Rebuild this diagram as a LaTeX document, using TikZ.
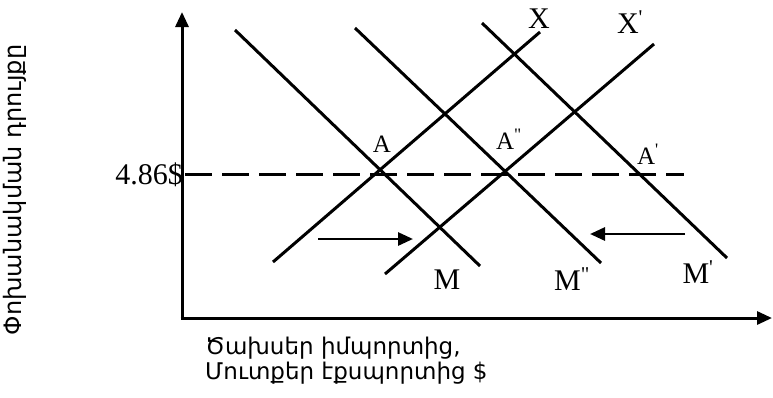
\documentclass[tikz,border=0pt]{standalone}
\usepackage{fontspec}
\setmainfont{Liberation Serif}
\newfontfamily\armfont{DejaVu Sans}
\usetikzlibrary{arrows.meta}
\newcommand{\pq}{\textsuperscript{\textquotesingle}}
\newcommand{\pqq}{\textsuperscript{\textquotedbl}}
\tikzset{
  curve/.style={line width=3pt, line cap=butt},
  axis/.style={line width=3pt, -{Triangle[length=15pt,width=13pt]}},
  shift arrow/.style={line width=2.8pt, -{Triangle[length=15pt,width=13pt]}},
  level/.style={line width=3pt, dash pattern=on 27pt off 10pt},
  biglbl/.style={inner sep=0pt, font=\fontsize{30}{32}\selectfont},
  smalllbl/.style={inner sep=0pt, font=\fontsize{25}{27}\selectfont},
  armtext/.style={inner sep=0pt, font=\armfont\fontsize{23}{25}\selectfont},
}
\begin{document}
\begin{tikzpicture}[x=1pt,y=-1pt]
\useasboundingbox (0,0) rectangle (773,397);
% axes
\coordinate (O) at (182,318);
\coordinate (ytop) at (182,12);
\coordinate (xend) at (772,318);
\draw[axis] (O) -- (ytop);
\draw[axis] ([xshift=-1.5pt]O) -- (xend);
% down sloping lines
\coordinate (m1a) at (235,30);  \coordinate (m1b) at (480,266);
\coordinate (m2a) at (355,28);  \coordinate (m2b) at (601,263);
\coordinate (m3a) at (482,23);  \coordinate (m3b) at (727,258);
\draw[curve] (m1a) -- (m1b);
\draw[curve] (m2a) -- (m2b);
\draw[curve] (m3a) -- (m3b);
% up sloping lines
\coordinate (x1a) at (273,262); \coordinate (x1b) at (540,32);
\coordinate (x2a) at (385,274); \coordinate (x2b) at (654,44);
\draw[curve] (x1a) -- (x1b);
\draw[curve] (x2a) -- (x2b);
% dashed level
\coordinate (da) at (185,174); \coordinate (db) at (684,174);
\draw[level] (da) -- (db);
% shift arrows
\coordinate (r1) at (318,239); \coordinate (r2) at (413,239);
\draw[shift arrow] (r1) -- (r2);
\coordinate (l1) at (685,234); \coordinate (l2) at (590,234);
\draw[shift arrow] (l1) -- (l2);
% labels
\node[biglbl] (lX) at (539,19) {X};
\node[biglbl] (lXp) at (630,22) {X\pq};
\node[smalllbl] (lA) at (382,144) {A};
\node[smalllbl] (lApp) at (509,139) {A\pqq};
\node[smalllbl] (lAp) at (648,154) {A\pq};
\node[biglbl] (lM) at (447,280) {M};
\node[biglbl] (lMpp) at (572,279) {M\pqq};
\node[biglbl] (lMp) at (698,272) {M\pq};
\node[biglbl, anchor=east] (lval) at (183,175) {4.86\$};
% axis titles
\node[armtext, rotate=90, font=\armfont\fontsize{24}{26}\selectfont] (ytitle) at (15,190) {Փոխանակման դրույքը};
\node[armtext, anchor=base west] (xt1) at (205,354) {Ծախսեր իմպորտից,};
\node[armtext, anchor=base west] (xt2) at (205,379) {Մուտքեր էքսպորտից \$};
\end{tikzpicture}
\end{document}
